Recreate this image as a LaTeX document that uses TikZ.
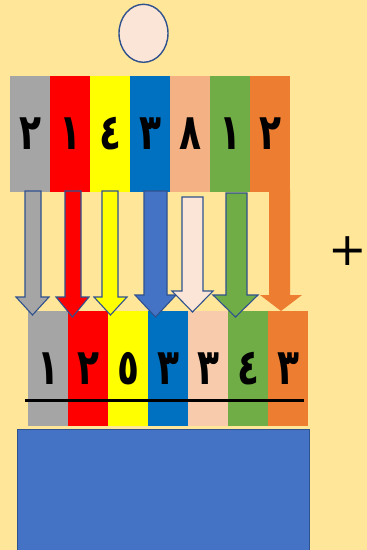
\documentclass[tikz,border=0pt]{standalone}
\usepackage{fontspec}
\usetikzlibrary{shapes.geometric}
\newfontfamily\arabicfont[Script=Arabic]{DejaVu Sans}
\newfontfamily\plusfont{DejaVu Sans}
\TeXXeTstate=1
\definecolor{bg}{HTML}{FFE699}
\definecolor{cgray}{HTML}{A5A5A5}
\definecolor{cred}{HTML}{FF0000}
\definecolor{cyellow}{HTML}{FFFF00}
\definecolor{cblue}{HTML}{0070C0}
\definecolor{cpeach}{HTML}{F4B183}
\definecolor{clpeach}{HTML}{F8CBAD}
\definecolor{cgreen}{HTML}{70AD47}
\definecolor{corange}{HTML}{ED7D31}
\definecolor{cpale}{HTML}{FBE5D6}
\definecolor{aline}{HTML}{2F528F}
\definecolor{boxblue}{HTML}{4472C4}
\newcommand{\barrowdown}[9]{%
  \filldraw[#9] (#1,#3) -- (#2,#3) -- (#2,#6) -- (#5,#6) -- (#8,#7) -- (#4,#6) -- (#1,#6) -- cycle;}
\newcommand{\ardig}[1]{\scalebox{0.72}[1.0]{\beginR #1\endR}}
\begin{document}
\begin{tikzpicture}[x=1pt,y=-1pt,
  cell/.style={minimum width=40pt, inner sep=0pt, draw=none,
    font=\arabicfont\bfseries\fontsize{50}{50}\selectfont},
  toprow/.style={cell, minimum height=116pt},
  botrow/.style={cell, minimum height=115pt},
  arr/.style={draw=aline, line width=1.1pt, line join=miter}]
\fill[bg] (0,0) rectangle (367,550);
\useasboundingbox (0,0) rectangle (367,550);
% head circle
\node[ellipse, draw=aline, line width=1.4pt, fill=cpale, minimum width=49pt, minimum height=58pt, inner sep=0pt] (head) at (143.5,33.3) {};
% top row
\node[toprow, fill=cgray]   (t0) at (30,134)  {\ardig{٢}};
\node[toprow, fill=cred]    (t1) at (70,134)  {\ardig{١}};
\node[toprow, fill=cyellow] (t2) at (110,134) {\ardig{٤}};
\node[toprow, fill=cblue]   (t3) at (150,134) {\ardig{٣}};
\node[toprow, fill=cpeach]  (t4) at (190,134) {\ardig{٨}};
\node[toprow, fill=cgreen]  (t5) at (230,134) {\ardig{١}};
\node[toprow, fill=corange] (t6) at (270,134) {\ardig{٢}};
% bottom row
\node[botrow, fill=cgray]   (b0) at (48,368.5)  {\ardig{١}};
\node[botrow, fill=cred]    (b1) at (88,368.5)  {\ardig{٢}};
\node[botrow, fill=cyellow] (b2) at (128,368.5) {\ardig{٥}};
\node[botrow, fill=cblue]   (b3) at (168,368.5) {\ardig{٣}};
\node[botrow, fill=clpeach] (b4) at (208,368.5) {\ardig{٣}};
\node[botrow, fill=cgreen]  (b5) at (248,368.5) {\ardig{٤}};
\node[botrow, fill=corange] (b6) at (288,368.5) {\ardig{٣}};
% arrows
\barrowdown{25}{41}{191}{16}{49}{297}{315}{32.5}{arr, fill=cgray}
\barrowdown{65}{81}{191}{56}{89}{297}{317}{72.5}{arr, fill=cred}
\barrowdown{102}{118}{191}{94}{127}{297}{315}{110.5}{arr, fill=cyellow}
\barrowdown{144}{167}{191}{135}{176}{295}{317}{155.5}{arr, fill=boxblue}
\barrowdown{182}{203}{197}{172}{213}{291}{312}{192.5}{arr, fill=cpale}
\barrowdown{226}{247}{193}{213}{258}{295}{317}{235.5}{arr, fill=cgreen}
\barrowdown{269}{290}{190}{260}{302}{295}{311}{281}{fill=corange, draw=none}
% underline
\coordinate (ulA) at (25,400);
\coordinate (ulB) at (304,400);
\draw[line width=3pt] (ulA) -- (ulB);
% answer box
\node[draw=aline, line width=1.2pt, fill=boxblue, minimum width=292pt, minimum height=130pt, inner sep=0pt, anchor=north west] (box) at (17,429) {};
% plus sign
\node[font=\plusfont\fontsize{46}{46}\selectfont, inner sep=0pt] (plus) at (347.5,251) {+};
\end{tikzpicture}
\end{document}
